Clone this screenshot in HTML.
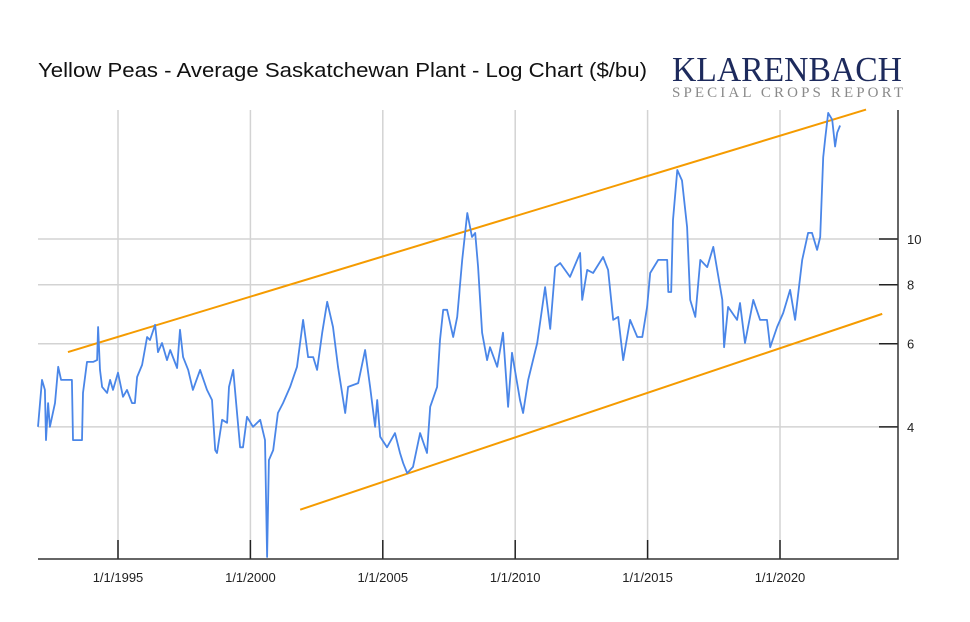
<!DOCTYPE html>
<html><head><meta charset="utf-8"><style>
html,body{margin:0;padding:0;background:#fff;}
svg{display:block;font-family:"Liberation Sans",Arial,sans-serif;}
</style></head><body>
<svg id="chart" width="970" height="622" viewBox="0 0 970 622">
<text x="38" y="77" font-size="20" fill="#111" textLength="609" lengthAdjust="spacingAndGlyphs">Yellow Peas - Average Saskatchewan Plant - Log Chart ($/bu)</text>
<text x="672" y="81" font-size="35" fill="#1d2a5c" font-family="'Liberation Serif',serif" textLength="230" lengthAdjust="spacingAndGlyphs">KLARENBACH</text>
<text x="672" y="97" font-size="15" fill="#8a8a8a" font-family="'Liberation Serif',serif" textLength="231" lengthAdjust="spacing">SPECIAL CROPS REPORT</text>
<g id="grid"></g><g id="trends"></g><g id="series"></g><g id="axes"></g>
</svg>
<script>
const dates=[1991.98,1992.13,1992.24,1992.28,1992.36,1992.43,1992.62,1992.74,1992.85,1993.26,1993.30,1993.64,1993.68,1993.83,1994.06,1994.21,1994.25,1994.32,1994.40,1994.59,1994.70,1994.81,1995.00,1995.19,1995.34,1995.53,1995.64,1995.72,1995.91,1996.10,1996.21,1996.40,1996.51,1996.66,1996.85,1996.97,1997.23,1997.34,1997.46,1997.65,1997.83,1998.10,1998.36,1998.55,1998.67,1998.74,1998.93,1999.12,1999.19,1999.35,1999.61,1999.72,1999.87,2000.10,2000.37,2000.55,2000.63,2000.70,2000.86,2001.04,2001.23,2001.50,2001.76,2001.99,2002.18,2002.37,2002.52,2002.71,2002.90,2003.12,2003.31,2003.58,2003.69,2004.07,2004.33,2004.52,2004.71,2004.79,2004.90,2005.16,2005.46,2005.65,2005.77,2005.92,2006.14,2006.41,2006.67,2006.79,2007.05,2007.16,2007.28,2007.43,2007.66,2007.81,2008.00,2008.19,2008.37,2008.49,2008.60,2008.75,2008.94,2009.05,2009.32,2009.54,2009.73,2009.88,2010.18,2010.30,2010.49,2010.83,2011.13,2011.32,2011.51,2011.70,2012.07,2012.45,2012.53,2012.72,2012.94,2013.32,2013.51,2013.70,2013.89,2014.08,2014.34,2014.61,2014.80,2014.98,2015.10,2015.40,2015.74,2015.78,2015.89,2015.96,2016.12,2016.30,2016.49,2016.61,2016.80,2016.99,2017.25,2017.48,2017.82,2017.89,2018.04,2018.38,2018.49,2018.68,2018.99,2019.25,2019.51,2019.63,2019.89,2020.12,2020.38,2020.57,2020.84,2021.06,2021.21,2021.40,2021.52,2021.63,2021.71,2021.82,2021.97,2022.08,2022.16,2022.27];
const prices=[4.0,5.03,4.79,3.75,4.49,4.0,4.49,5.36,5.03,5.03,3.75,3.75,4.72,5.49,5.49,5.54,6.51,5.28,4.86,4.72,5.03,4.79,5.21,4.63,4.79,4.49,4.49,5.10,5.41,6.20,6.11,6.58,5.76,6.02,5.54,5.82,5.33,6.42,5.62,5.28,4.79,5.28,4.79,4.56,3.57,3.52,4.14,4.08,4.86,5.28,3.62,3.62,4.20,4.0,4.14,3.75,2.12,3.40,3.57,4.28,4.49,4.86,5.36,6.74,5.62,5.62,5.28,6.33,7.36,6.51,5.36,4.28,4.86,4.95,5.82,4.86,4.0,4.56,3.81,3.62,3.88,3.52,3.35,3.19,3.29,3.88,3.52,4.41,4.86,6.11,7.08,7.08,6.20,6.84,9.03,11.35,10.1,10.3,8.72,6.33,5.54,5.90,5.36,6.33,4.41,5.74,4.56,4.28,5.03,6.02,7.91,6.45,8.72,8.89,8.31,9.34,7.43,8.6,8.47,9.16,8.6,6.74,6.84,5.54,6.74,6.20,6.20,7.18,8.47,9.03,9.03,7.72,7.72,10.97,14.0,13.3,10.6,7.43,6.84,9.03,8.72,9.62,7.43,5.90,7.18,6.74,7.32,6.02,7.43,6.74,6.74,5.90,6.51,6.97,7.80,6.74,9.03,10.3,10.3,9.48,10.1,14.9,16.4,18.5,17.9,15.7,16.8,17.4];
const upperTrendDates=[1993.11,2023.25];
const upperTrendValues=[5.76,18.8];
const lowerTrendDates=[2001.88,2023.86];
const lowerTrendValues=[2.67,6.94];
const yTicks=[4,6,8,10];
const xTickYears=[1995,2000,2005,2010,2015,2020];
const xTickLabels=["1/1/1995","1/1/2000","1/1/2005","1/1/2010","1/1/2015","1/1/2020"];

const L=38,R=898,T=110,B=559;
function xs(yr){return 118+(yr-1995)*26.48;}
function ys(v){return 239-472*Math.log10(v/10);}
const NS="http://www.w3.org/2000/svg";
function mk(tag,attrs,parent){const e=document.createElementNS(NS,tag);for(const k in attrs)e.setAttribute(k,attrs[k]);parent.appendChild(e);return e;}
const grid=document.getElementById('grid'),axes=document.getElementById('axes'),trends=document.getElementById('trends'),series=document.getElementById('series');
xTickYears.forEach((yr,i)=>{
  const x=xs(yr);
  const g=mk('line',{x1:x,x2:x,y1:T,y2:B,stroke:'#d3d3d3','stroke-width':1.5},grid);
  
  
  const t=mk('line',{x1:x,x2:x,y1:B-19,y2:B,stroke:'#222','stroke-width':1.5},axes);
  
  
  const lb=mk('text',{x:x,y:582,'font-size':13,'text-anchor':'middle',fill:'#222'},axes);
  lb.textContent=xTickLabels[i];
  
  
});
yTicks.forEach(v=>{
  const y=ys(v);
  const g=mk('line',{x1:L,x2:R,y1:y,y2:y,stroke:'#d3d3d3','stroke-width':1.5},grid);
  
  
  const t=mk('line',{x1:R-19,x2:R,y1:y,y2:y,stroke:'#222','stroke-width':1.5},axes);
  
  
  const lb=mk('text',{x:907,y:y+5,'font-size':13,fill:'#222'},axes);
  lb.textContent=String(v);
  
  
});
const ax=mk('path',{d:`M${L},${B}H${R}V${T}`,fill:'none',stroke:'#333','stroke-width':1.5},axes);


function trend(ds,vs,name){
  const l=mk('line',{x1:xs(ds[0]),y1:ys(vs[0]),x2:xs(ds[1]),y2:ys(vs[1]),stroke:'#f59b00','stroke-width':2},trends);
  
  
}
trend(upperTrendDates,upperTrendValues,'upper-trend-line');
trend(lowerTrendDates,lowerTrendValues,'lower-trend-line');
const d=dates.map((yr,i)=>(i?'L':'M')+xs(yr).toFixed(1)+','+ys(prices[i]).toFixed(1)).join('');
const p=mk('path',{d:d,fill:'none',stroke:'#4a86e8','stroke-width':1.8,'stroke-linejoin':'round'},series);


</script>
</body></html>
